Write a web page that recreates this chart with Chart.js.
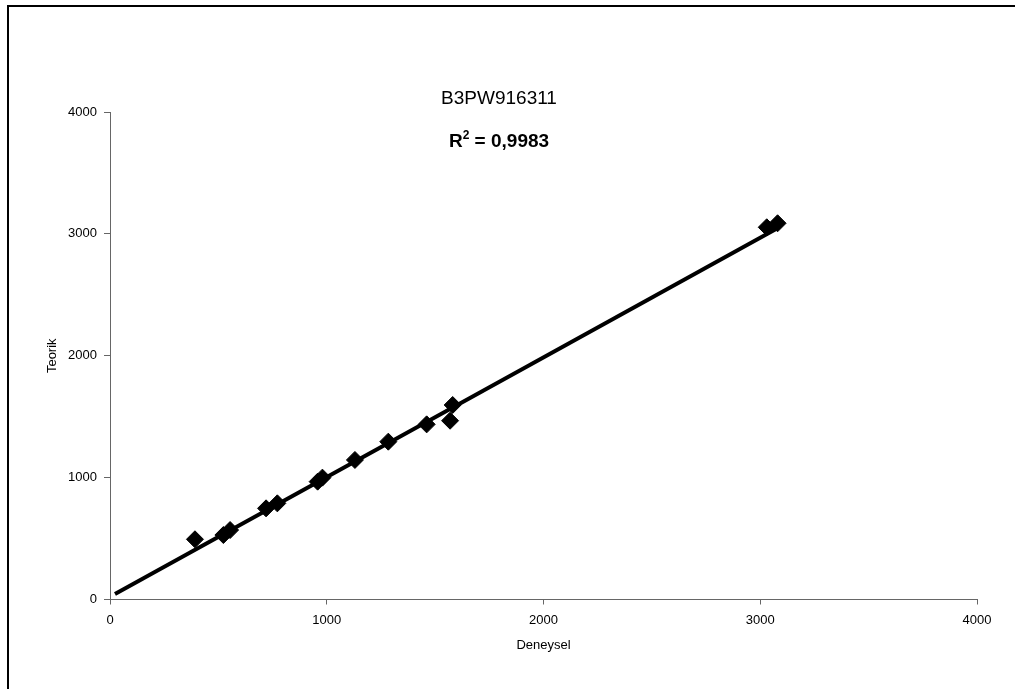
<!DOCTYPE html>
<html>
<head>
<meta charset="utf-8">
<script src="https://cdn.jsdelivr.net/npm/chart.js@4/dist/chart.umd.min.js"></script>
<style>
  html, body { margin: 0; padding: 0; background: #fff; }
  #wrap { width: 1015px; height: 689px; position: relative; }
</style>
</head>
<body>
<div id="wrap"><canvas id="c"></canvas></div>
<script>
// Experimental (Deneysel) vs theoretical (Teorik) values
const chartTitle = 'B3PW916311';
const r2Value = '0,9983';
const xTitle = 'Deneysel';
const yTitle = 'Teorik';

const deneysel = [392, 523, 554, 720, 772, 958, 980, 1130, 1284, 1461, 1569, 1581, 3030, 3080];
const teorik   = [494, 529, 570, 748, 789, 967, 1000, 1145, 1295, 1437, 1467, 1596, 3054, 3087];

// linear trend line end points
const fitX = [23, 3075];
const fitY = [45, 3042];

const axisMin = 0;
const axisMax = 4000;
const axisStep = 1000;

const FONT = '"Liberation Sans", Arial, sans-serif';

const decorPlugin = {
  id: 'decor',
  beforeDraw(chart) {
    const ctx = chart.ctx;
    ctx.save();
    ctx.fillStyle = '#fff';
    ctx.fillRect(0, 0, chart.width, chart.height);
    ctx.strokeStyle = '#000';
    ctx.lineWidth = 2;
    ctx.strokeRect(8, 6, chart.width + 20, chart.height + 20);
    ctx.restore();
  },
  afterDraw(chart) {
    const ctx = chart.ctx;
    const ca = chart.chartArea;
    ctx.save();
    ctx.fillStyle = '#000';
    ctx.textBaseline = 'alphabetic';

    // chart title
    ctx.font = '19px ' + FONT;
    ctx.textAlign = 'center';
    ctx.fillText(chartTitle, 499, 104);

    // R² label
    const big = 'bold 19px ' + FONT;
    const small = 'bold 12px ' + FONT;
    const rest = ' = ' + r2Value;
    ctx.font = big;
    const wR = ctx.measureText('R').width;
    const wRest = ctx.measureText(rest).width;
    ctx.font = small;
    const w2 = ctx.measureText('2').width;
    const total = wR + w2 + wRest;
    let x0 = 499 - total / 2;
    ctx.textAlign = 'left';
    ctx.font = big;
    ctx.fillText('R', x0, 147);
    ctx.font = small;
    ctx.fillText('2', x0 + wR, 139);
    ctx.font = big;
    ctx.fillText(rest, x0 + wR + w2, 147);

    // axis titles
    ctx.font = '13px ' + FONT;
    ctx.textAlign = 'center';
    ctx.fillText(xTitle, (ca.left + ca.right) / 2, 649);
    ctx.translate(56, (ca.top + ca.bottom) / 2);
    ctx.rotate(-Math.PI / 2);
    ctx.fillText(yTitle, 0, 0);
    ctx.restore();
  }
};

const ticksFont = { family: FONT, size: 13 };
const plainTick = (v) => String(v);

new Chart(document.getElementById('c'), {
  type: 'scatter',
  data: {
    datasets: [
      {
        label: 'trend',
        data: fitX.map((x, i) => ({ x: x, y: fitY[i] })),
        showLine: true,
        borderColor: '#000',
        borderWidth: 4,
        pointRadius: 0,
        order: 2
      },
      {
        label: 'B3PW916311',
        data: deneysel.map((x, i) => ({ x: x, y: teorik[i] })),
        pointStyle: 'rectRot',
        pointRadius: 8.5,
        pointBackgroundColor: '#000',
        pointBorderColor: '#000',
        pointBorderWidth: 1,
        showLine: false,
        order: 1
      }
    ]
  },
  options: {
    responsive: true,
    maintainAspectRatio: false,
    animation: false,
    layout: { padding: { top: 112, right: 38, left: 0, bottom: 0 } },
    plugins: {
      legend: { display: false },
      tooltip: { enabled: false },
      title: { display: false }
    },
    scales: {
      x: {
        type: 'linear',
        min: axisMin,
        max: axisMax,
        ticks: { stepSize: axisStep, color: '#000', font: ticksFont, padding: 8, maxRotation: 0, callback: plainTick },
        grid: { display: true, drawOnChartArea: false, drawTicks: true, tickLength: 5, color: '#666', tickColor: '#666' },
        border: { display: true, color: '#666', width: 1 },
        afterFit(scale) { scale.height = 89.5; }
      },
      y: {
        type: 'linear',
        min: axisMin,
        max: axisMax,
        ticks: { stepSize: axisStep, color: '#000', font: ticksFont, padding: 7, callback: plainTick },
        grid: { display: true, drawOnChartArea: false, drawTicks: true, tickLength: 6, color: '#666', tickColor: '#666' },
        border: { display: true, color: '#666', width: 1 },
        afterFit(scale) { scale.width = 110; }
      }
    }
  },
  plugins: [decorPlugin]
});
</script>
</body>
</html>
